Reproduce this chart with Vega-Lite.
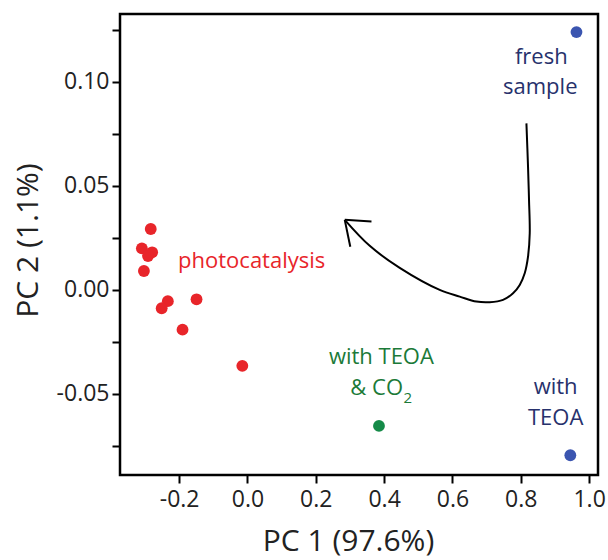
{
  "$schema": "https://vega.github.io/schema/vega-lite/v6.json",
  "autosize": "none",
  "width": 478,
  "height": 461,
  "padding": {"left": 120, "top": 14, "right": 10, "bottom": 85},
  "background": "white",
  "config": {
    "view": {"stroke": "black", "strokeWidth": 2.5},
    "font": "Open Sans",
    "axis": {
      "domain": false, "grid": false, "tickColor": "black", "tickWidth": 2, "tickSize": 8,
      "labelFont": "Open Sans", "labelFontSize": 23, "labelColor": "#222",
      "titleFont": "Open Sans", "titleFontSize": 30, "titleFontWeight": "normal", "titleColor": "#222"
    }
  },
  "datasets": {
    "points": [
      {"x": 0.963, "y": 0.124, "group": "fresh sample"},
      {"x": 0.945, "y": -0.0795, "group": "with TEOA"},
      {"x": 0.385, "y": -0.0654, "group": "with TEOA & CO2"},
      {"x": -0.283, "y": 0.0293, "group": "photocatalysis"},
      {"x": -0.309, "y": 0.0200, "group": "photocatalysis"},
      {"x": -0.279, "y": 0.0181, "group": "photocatalysis"},
      {"x": -0.291, "y": 0.0163, "group": "photocatalysis"},
      {"x": -0.303, "y": 0.0091, "group": "photocatalysis"},
      {"x": -0.233, "y": -0.0054, "group": "photocatalysis"},
      {"x": -0.251, "y": -0.0088, "group": "photocatalysis"},
      {"x": -0.149, "y": -0.0045, "group": "photocatalysis"},
      {"x": -0.190, "y": -0.0191, "group": "photocatalysis"},
      {"x": -0.015, "y": -0.0365, "group": "photocatalysis"}
    ],
    "arrow": [
      {"i": 0, "x": 0.8165, "y": 0.0801},
      {"i": 1, "x": 0.8212, "y": 0.0593},
      {"i": 2, "x": 0.8241, "y": 0.0433},
      {"i": 3, "x": 0.8262, "y": 0.0273},
      {"i": 4, "x": 0.8212, "y": 0.0160},
      {"i": 5, "x": 0.8115, "y": 0.0080},
      {"i": 6, "x": 0.7969, "y": 0.0024},
      {"i": 7, "x": 0.7773, "y": -0.0016},
      {"i": 8, "x": 0.7480, "y": -0.0048},
      {"i": 9, "x": 0.7091, "y": -0.0059},
      {"i": 10, "x": 0.6702, "y": -0.0056},
      {"i": 11, "x": 0.6213, "y": -0.0032},
      {"i": 12, "x": 0.5627, "y": 0.0},
      {"i": 13, "x": 0.4457, "y": 0.0106},
      {"i": 14, "x": 0.3579, "y": 0.0212},
      {"i": 15, "x": 0.2848, "y": 0.0337}
    ],
    "head": [
      {"x": 0.2848, "y": 0.0337, "x2": 0.363, "y2": 0.0329},
      {"x": 0.2848, "y": 0.0337, "x2": 0.301, "y2": 0.0208}
    ],
    "navyText": [
      {"x": 0.860, "y": 0.1122, "label": "fresh"},
      {"x": 0.857, "y": 0.0975, "label": "sample"},
      {"x": 0.902, "y": -0.0468, "label": "with"},
      {"x": 0.902, "y": -0.0617, "label": "TEOA"}
    ],
    "greenText": [
      {"x": 0.392, "y": -0.0321, "label": "with TEOA"}
    ],
    "greenLeft": [
      {"x": 0.301, "y": -0.0472, "label": "& CO"}
    ],
    "greenSub": [
      {"x": 0.469, "y": -0.0518, "label": "2"}
    ],
    "redText": [
      {"x": -0.203, "y": 0.0139, "label": "photocatalysis"}
    ]
  },
  "layer": [
    {
      "data": {"name": "arrow"},
      "mark": {"type": "line", "color": "black", "strokeWidth": 2, "interpolate": "catmull-rom"},
      "encoding": {
        "x": {"field": "x", "type": "quantitative", "scale": {"domain": [-0.373, 1.026], "nice": false, "zero": false},
          "axis": {"values": [-0.2, 0, 0.2, 0.4, 0.6, 0.8, 1.0], "labelExpr": "replace(format(datum.value, '.1f'), '\u2212', '-')", "title": "PC 1 (97.6%)", "titlePadding": 15, "labelPadding": 5, "titleX": 228}},
        "y": {"field": "y", "type": "quantitative", "scale": {"domain": [-0.089, 0.1327], "nice": false, "zero": false},
          "axis": {"values": [-0.075, -0.05, -0.025, 0, 0.025, 0.05, 0.075, 0.1, 0.125], "labelExpr": "abs(round(datum.value*1000) % 50) == 0 ? replace(format(datum.value, '.2f'), '\u2212', '-') : ''", "title": "PC 2 (1.1%)", "titlePadding": 13, "labelPadding": 3, "titleY": 226}},
        "order": {"field": "i", "type": "quantitative"}
      }
    },
    {
      "data": {"name": "head"},
      "mark": {"type": "rule", "color": "black", "strokeWidth": 2},
      "encoding": {
        "x": {"field": "x", "type": "quantitative"},
        "y": {"field": "y", "type": "quantitative"},
        "x2": {"field": "x2"},
        "y2": {"field": "y2"}
      }
    },
    {
      "data": {"name": "points"},
      "mark": {"type": "circle", "size": 140, "opacity": 1},
      "encoding": {
        "x": {"field": "x", "type": "quantitative"},
        "y": {"field": "y", "type": "quantitative"},
        "color": {"field": "group", "type": "nominal", "legend": null,
          "scale": {"domain": ["fresh sample", "with TEOA", "with TEOA & CO2", "photocatalysis"], "range": ["#3b55b0", "#3b55b0", "#158a48", "#e8252a"]}}
      }
    },
    {
      "data": {"name": "navyText"},
      "mark": {"type": "text", "fontSize": 22, "color": "#27316c", "align": "center", "baseline": "middle", "font": "Open Sans"},
      "encoding": {"x": {"field": "x", "type": "quantitative"}, "y": {"field": "y", "type": "quantitative"}, "text": {"field": "label"}}
    },
    {
      "data": {"name": "greenText"},
      "mark": {"type": "text", "fontSize": 22, "color": "#1b7a38", "align": "center", "baseline": "middle", "font": "Open Sans"},
      "encoding": {"x": {"field": "x", "type": "quantitative"}, "y": {"field": "y", "type": "quantitative"}, "text": {"field": "label"}}
    },
    {
      "data": {"name": "greenLeft"},
      "mark": {"type": "text", "fontSize": 22, "color": "#1b7a38", "align": "left", "baseline": "middle", "font": "Open Sans"},
      "encoding": {"x": {"field": "x", "type": "quantitative"}, "y": {"field": "y", "type": "quantitative"}, "text": {"field": "label"}}
    },
    {
      "data": {"name": "greenSub"},
      "mark": {"type": "text", "fontSize": 15, "color": "#1b7a38", "align": "center", "baseline": "middle", "font": "Open Sans"},
      "encoding": {"x": {"field": "x", "type": "quantitative"}, "y": {"field": "y", "type": "quantitative"}, "text": {"field": "label"}}
    },
    {
      "data": {"name": "redText"},
      "mark": {"type": "text", "fontSize": 22, "color": "#e8252a", "align": "left", "baseline": "middle", "font": "Open Sans"},
      "encoding": {"x": {"field": "x", "type": "quantitative"}, "y": {"field": "y", "type": "quantitative"}, "text": {"field": "label"}}
    }
  ]
}
